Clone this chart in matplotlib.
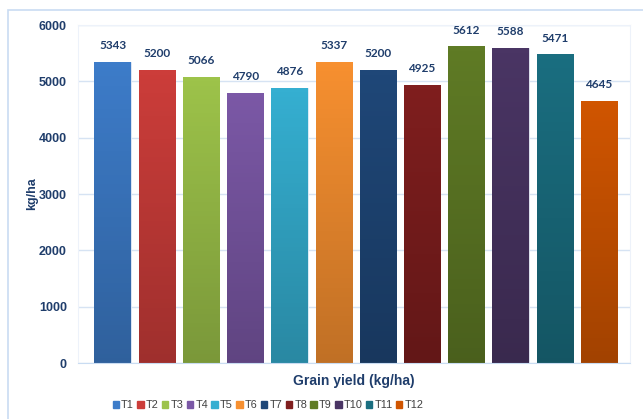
import matplotlib
matplotlib.use('Agg')
import matplotlib.pyplot as plt
import numpy as np
from matplotlib.patches import Rectangle
from matplotlib.colors import to_rgb

treatments = ['T1','T2','T3','T4','T5','T6','T7','T8','T9','T10','T11','T12']
yields = [5343, 5200, 5066, 4790, 4876, 5337, 5200, 4925, 5612, 5588, 5471, 4645]
colors = ['#3d7cc9','#cc3d3a','#9dc34a','#7b58a6','#35afd1','#f79030',
          '#1f4778','#7f1e1e','#5f7b25','#4a3564','#1a6e80','#d05500']
yticks = [0, 1000, 2000, 3000, 4000, 5000, 6000]

txt = '#1f3d6b'
plt.rcParams['font.family'] = ['Liberation Sans', 'DejaVu Sans']

fig = plt.figure(figsize=(6.43, 4.19), dpi=100)
fig.patches.append(Rectangle((8/643, -0.01), 1, 1 - 10/419 + 0.01, transform=fig.transFigure,
                             fill=False, edgecolor='#c9dcf2', linewidth=1.2))
ax = fig.add_axes([78/643, 1 - 363/419, (630-78)/643, (363-25)/419])

x = np.arange(len(treatments))
bars = ax.bar(x, yields, width=0.82, color=colors, edgecolor='#e8eef8', linewidth=0.6, zorder=2)

# vertical gradient inside each bar: lighter at top, darker at bottom
for b, c in zip(bars, colors):
    r, g, bl = to_rgb(c)
    grad = np.linspace(1.0, 0.78, 64)[:, None]
    img = np.dstack([np.clip(r * grad, 0, 1), np.clip(g * grad, 0, 1), np.clip(bl * grad, 0, 1)])
    x0 = b.get_x(); w = b.get_width(); h = b.get_height()
    ax.imshow(img, extent=[x0, x0 + w, 0, h], aspect='auto', zorder=2.5, origin='upper')
    ax.text(x0 + w / 2, h + 200, f'{int(h)}', ha='center', va='bottom', fontsize=8.5,
            fontweight='bold', color=txt, family=['Lato', 'DejaVu Sans'])

ax.set_xlim(-0.78, len(treatments) - 0.3)
ax.set_ylim(0, 6000)
ax.set_yticks(yticks)
ax.set_yticklabels([str(t) for t in yticks], fontsize=9, fontweight='bold', color=txt)
ax.set_xticks([])
ax.grid(axis='y', color='#d6e3f3', linewidth=1, zorder=0)
ax.set_axisbelow(True)
for s in ['top', 'right', 'left']:
    ax.spines[s].set_color('#edf2fa')
ax.spines['bottom'].set_color('#c9dcf2')
ax.tick_params(axis='y', length=0, pad=8)
ax.set_ylabel('kg/ha', fontsize=9, fontweight='bold', color=txt)
ax.yaxis.set_label_coords(-40/552, 0.5)
ax.set_xlabel('Grain yield (kg/ha)', fontsize=10, fontweight='bold', color=txt, labelpad=8)

handles = [Rectangle((0, 0), 1, 1, color=c) for c in colors]
fig.legend(handles, treatments, loc='center', bbox_to_anchor=(268/643, 1 - 405/419), ncol=12,
           frameon=False, handlelength=0.6, handleheight=0.6,
           handletextpad=0.2, columnspacing=0.3, labelcolor='#404040',
           prop={'family': ['Liberation Sans Narrow', 'Liberation Sans'], 'size': 7.8})

fig.savefig('out.png', dpi=100)
